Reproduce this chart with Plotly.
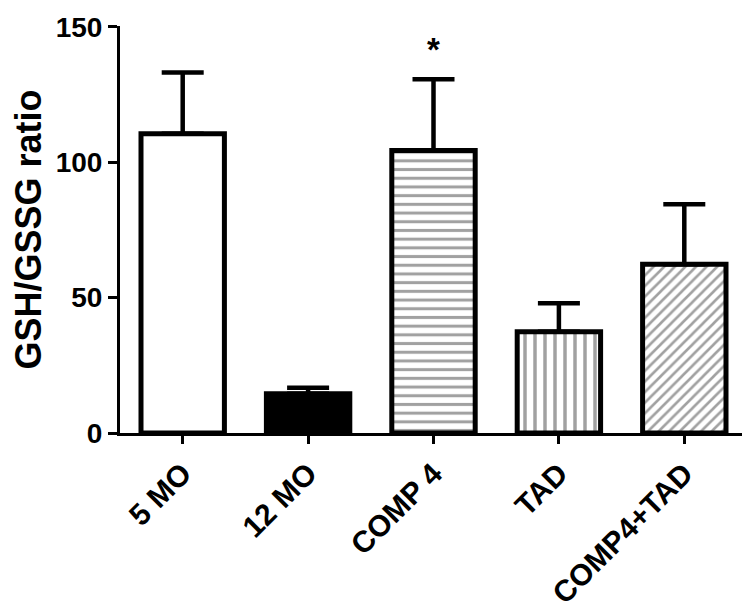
import plotly.graph_objects as go

categories = ["5 MO", "12 MO", "COMP 4", "TAD", "COMP4+TAD"]
means = [110.5, 14.5, 104.3, 37.4, 62.3]
errors_up = [22.6, 2.2, 26.3, 10.5, 22.2]
patterns = ["", "", "-", "|", "/"]
fills = ["white", "black", "white", "white", "white"]
pattern_sizes = [8, 8, 8.7, 10, 7.5]
y_ticks = [0, 50, 100, 150]
star_label = "*"

FONT = "Liberation Sans, Arial, sans-serif"

fig = go.Figure()
fig.add_trace(go.Bar(
    x=categories,
    y=means,
    width=0.665,
    marker=dict(
        color=fills,
        line=dict(color="black", width=5),
        pattern=dict(shape=patterns, fgcolor="black", bgcolor="white",
                     size=pattern_sizes, solidity=0.35, fillmode="overlay"),
    ),
    error_y=dict(type="data", symmetric=False, array=errors_up,
                 arrayminus=[0] * len(means), color="black",
                 thickness=4.5, width=21),
    showlegend=False,
))

fig.add_annotation(x=categories[2], y=means[2] + errors_up[2], text="<b>" + star_label + "</b>",
                   showarrow=False, yshift=30, font=dict(family=FONT, size=33, color="black"))

# page body has an 8px default margin, so the margins compensate for it
fig.update_layout(
    width=750, height=611,
    margin=dict(l=112, r=11, t=18, b=186, autoexpand=False),
    plot_bgcolor="white", paper_bgcolor="white",
    bargap=0.335,
    xaxis=dict(
        showline=True, linecolor="black", linewidth=3,
        ticks="outside", ticklen=8, tickwidth=3, tickcolor="black",
        tickangle=-45, automargin=False,
        tickfont=dict(family=FONT, size=30, color="black", weight="bold"),
        showgrid=False, zeroline=False,
    ),
    yaxis=dict(
        range=[0, 150.3], tickvals=y_ticks, automargin=False,
        ticklabeloverflow="allow",
        showline=True, linecolor="black", linewidth=3,
        ticks="outside", ticklen=9, tickwidth=3, tickcolor="black",
        tickfont=dict(family=FONT, size=28, color="black", weight="bold"),
        showgrid=False, zeroline=False,
        title=dict(text="GSH/GSSG ratio", standoff=22,
                   font=dict(family=FONT, size=36, color="black", weight="bold")),
    ),
)

fig.write_html("out.html")
